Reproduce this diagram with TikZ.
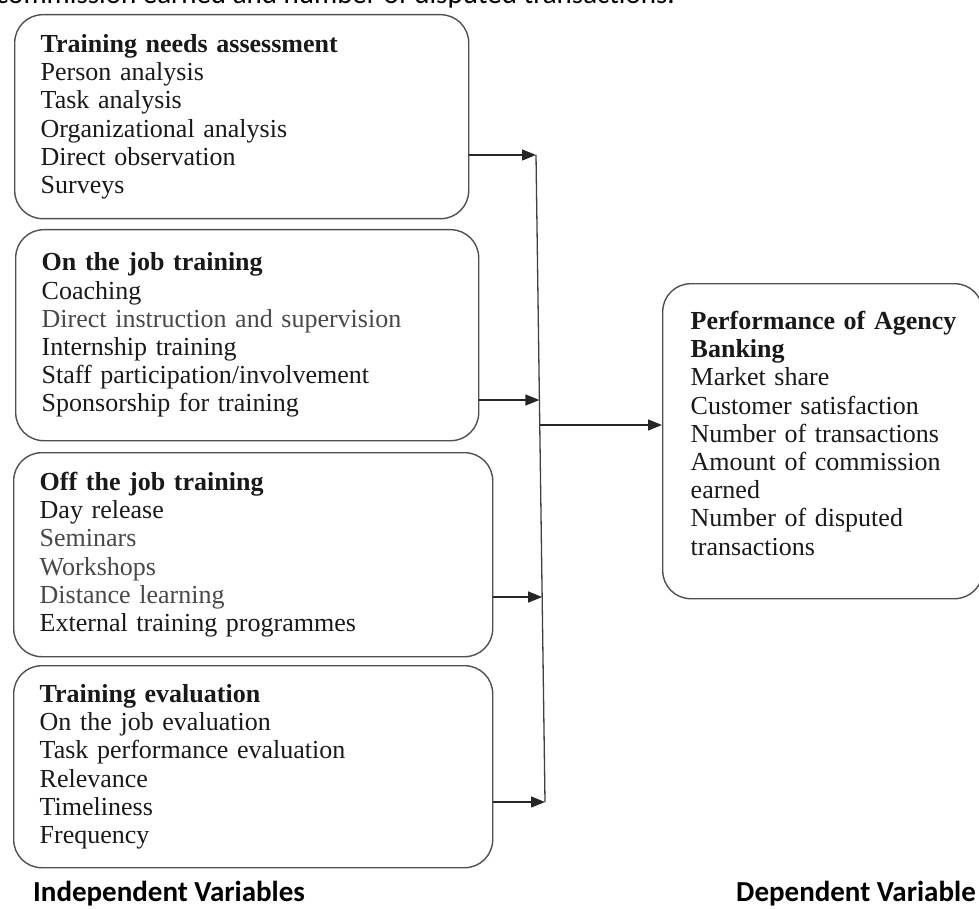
\documentclass[tikz,border=0pt]{standalone}
\usepackage{fontspec}
\setmainfont{Liberation Serif}
\newfontfamily\labelfont{Carlito}
\usepackage{xcolor}
\usepackage{tikz}
\usetikzlibrary{
  arrows.meta,
  positioning,
  calc
}
\definecolor{boxline}{RGB}{80, 80, 80}
\definecolor{softink}{RGB}{72, 72, 72}
\tikzset{
  varbox/.style={draw=boxline, line width=1.4pt, rounded corners=28pt,
                 anchor=north west, align=left, inner xsep=26pt, inner ysep=0pt,
                 text=black!90, font=\fontsize{26}{28.2}\selectfont},
  feed/.style={draw=black!85, line width=1.3pt, -{Triangle[length=14pt, width=11pt]}},
  bus/.style={draw=black!75, line width=1.3pt},
  axislabel/.style={inner sep=0pt, font=\labelfont\bfseries\fontsize{29}{32}\selectfont}
}

\begin{document}
\begin{tikzpicture}[x=1pt, y=-1pt]
\useasboundingbox (0,0) rectangle (979,909);

\node[anchor=base west, inner sep=0pt, font=\labelfont\fontsize{29}{32}\selectfont]
  (pageline) at (-4,4) {commission earned and number of disputed transactions.};

\node[varbox, text width=402pt, minimum height=204pt] (needs) at (14,14)
  {\textbf{Training needs assessment}\\
   Person analysis\\
   Task analysis\\
   Organizational analysis\\
   Direct observation\\
   Surveys};

\node[varbox, text width=411pt, minimum height=211pt] (onjob) at (15,229)
  {\textbf{On the job training}\\
   Coaching\\
   {\color{softink}Direct instruction and supervision}\\
   Internship training\\
   Staff participation/involvement\\
   Sponsorship for training};

\node[varbox, text width=427pt, minimum height=204pt] (offjob) at (13,452)
  {\textbf{Off the job training}\\
   Day release\\
   {\color{softink}Seminars}\\
   {\color{softink}Workshops}\\
   {\color{softink}Distance learning}\\
   External training programmes};

\node[varbox, text width=427pt, minimum height=202pt] (evaluation) at (13,665)
  {\textbf{Training evaluation}\\
   On the job evaluation\\
   Task performance evaluation\\
   Relevance\\
   Timeliness\\
   Frequency};

\node[varbox, inner xsep=28pt, text width=264pt, minimum height=315pt] (perf) at (662,283)
  {\mbox{\textbf{Performance of Agency}}\\
   \textbf{Banking}\\
   Market share\\
   Customer satisfaction\\
   Number of transactions\\
   Amount of commission\\
   earned\\
   Number of disputed\\
   transactions\par\vspace{16pt}};

\coordinate (bustop) at (536,155);
\coordinate (busbot) at (545,802);
\draw[bus] (bustop) -- (busbot)
  coordinate[pos=0.3787] (jon)
  coordinate[pos=0.4173] (jout)
  coordinate[pos=0.6832] (joff);

\draw[feed] (needs.east |- bustop) -- (bustop);
\draw[feed] (onjob.east |- jon) -- (jon);
\draw[feed] (offjob.east |- joff) -- (joff);
\draw[feed] (evaluation.east |- busbot) -- (busbot);
\draw[feed] (jout) -- (perf.west |- jout);

\node[axislabel, anchor=base west] (indep) at (33,901) {Independent Variables};
\node[axislabel, anchor=base east] (dep) at (976,901) {Dependent Variable};
\end{tikzpicture}
\end{document}
